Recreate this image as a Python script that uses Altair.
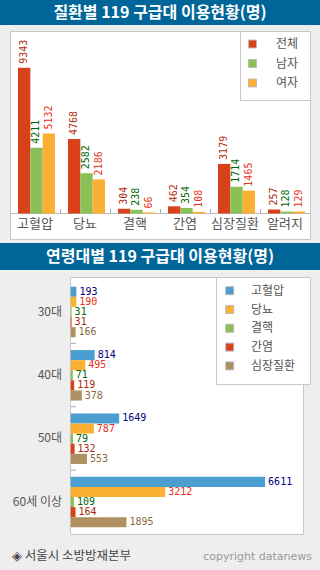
import altair as alt
import pandas as pd

# ---------------- data ----------------
title_top = "질환별 119 구급대 이용현황(명)"
title_bot = "연령대별 119 구급대 이용현황(명)"
footer_left = "◈ 서울시 소방방재본부"
footer_right = "copyright datanews"

cats_top = ["고혈압", "당뇨", "결핵", "간염", "심장질환", "알려지"]
series_top = ["전체", "남자", "여자"]
total = [9343, 4768, 304, 462, 3179, 257]
male = [4211, 2582, 238, 354, 1714, 128]
female = [5132, 2186, 66, 108, 1465, 129]

age_groups = ["30대", "40대", "50대", "60세 이상"]
diseases = ["고혈압", "당뇨", "결핵", "간염", "심장질환"]
hyper = [193, 814, 1649, 6611]
diab = [190, 495, 787, 3212]
tb = [31, 71, 79, 109]
hep = [31, 119, 132, 164]
heart = [166, 378, 553, 1895]

# ---------------- styles ----------------
FONT_KR = "Noto Sans CJK KR"
FONT_NUM = "DejaVu Sans Mono"
BAR_TOP = ["#D9411A", "#8BC057", "#FBB034"]
LBL_TOP = ["#B02A0C", "#006600", "#E8301A"]
BAR_BOT = ["#4A9FD0", "#FBB034", "#8BC057", "#D9411A", "#B09060"]
LBL_BOT = ["#000080", "#E8301A", "#006600", "#A82810", "#8B6B43"]
HEAD = "#006699"
BORDER = "#C8C8C8"

top_rows = []
for i, c in enumerate(cats_top):
    for s, vals in zip(series_top, [total, male, female]):
        top_rows.append({"cat": c, "series": s, "value": vals[i]})
top_df = pd.DataFrame(top_rows)

bot_rows = []
for i, g in enumerate(age_groups):
    for d, vals in zip(diseases, [hyper, diab, tb, hep, heart]):
        bot_rows.append({"grp": g, "disease": d, "value": vals[i]})
bot_df = pd.DataFrame(bot_rows)

dummy = pd.DataFrame({"d": [0]})


def rect(x1, x2, y1, y2, fill, stroke=None):
    kw = dict(fill=fill)
    if stroke:
        kw.update(stroke=stroke, strokeWidth=1)
    return alt.Chart(dummy).mark_rect(**kw).encode(
        x=alt.value(x1), x2=alt.value(x2), y=alt.value(y1), y2=alt.value(y2))


def label(text, x, y, size, color, font=FONT_KR, align="center", weight="normal"):
    return alt.Chart(dummy).mark_text(
        text=text, font=font, fontSize=size, color=color, align=align,
        baseline="middle", fontWeight=weight).encode(x=alt.value(x), y=alt.value(y))


# ---------------- decorations ----------------
deco = [
    rect(0, 320, 0, 25, HEAD),
    rect(0, 320, 243, 270, HEAD),
    rect(10.5, 310.5, 31.5, 239.5, "white", BORDER),
    rect(240.5, 310.5, 31.5, 100.5, "white", BORDER),
    rect(70.5, 303.5, 277.5, 534.5, "white", BORDER),
    rect(216.5, 310.5, 277.5, 384.5, "white", BORDER),
    label(title_top, 160, 13, 16, "white", weight="bold"),
    label(title_bot, 160, 257, 16, "white", weight="bold"),
    label(footer_left, 12, 556, 12.5, "#444444", align="left"),
    label(footer_right, 312, 557, 11, "#999999", font="DejaVu Sans", align="right"),
]

# ---------------- top chart ----------------
xs_top = alt.X("cat:N", scale=alt.Scale(type="band", domain=cats_top, range=[10, 310],
                                        paddingInner=0, paddingOuter=0), axis=None)
# offset bands inside each 50px group: bars 12.33px wide, starting 8px in
xo_top = alt.XOffset("series:N", scale=alt.Scale(type="band", domain=series_top, paddingInner=0,
                                                 paddingOuter=0.527, align=0.615))
ys_top = alt.Y("value:Q", scale=alt.Scale(domain=[0, 10000], range=[213.5, 57.5]), axis=None)

bars_top = alt.Chart(top_df).mark_bar().encode(
    x=xs_top, xOffset=xo_top, y=ys_top,
    color=alt.Color("series:N", scale=alt.Scale(domain=series_top, range=BAR_TOP),
                    legend=alt.Legend(orient="none", legendX=246.5, legendY=38, title=None,
                                      symbolType="square", symbolSize=64,
                                      symbolStrokeColor="#BBBBBB", symbolStrokeWidth=1,
                                      labelFont=FONT_KR, labelFontSize=12, labelColor="#555555",
                                      labelOffset=17.5, rowPadding=7.5, padding=0)))

text_top = alt.Chart(top_df).mark_text(
    angle=270, align="left", baseline="middle", dx=4,
    font=FONT_NUM, fontSize=10).encode(
    x=xs_top, xOffset=xo_top, y=ys_top, text="value:Q",
    color=alt.Color("series:N", scale=alt.Scale(domain=series_top, range=LBL_TOP), legend=None))

cat_df = pd.DataFrame({"cat": cats_top})
cat_labels = alt.Chart(cat_df).mark_text(
    font=FONT_KR, fontSize=13, color="#555555", baseline="middle").encode(
    x=xs_top, y=alt.value(224), text="cat:N")

baseline = alt.Chart(dummy).mark_rule(color="#BBBBBB").encode(
    x=alt.value(10.5), x2=alt.value(310.5), y=alt.value(213.5))

tick_df = pd.DataFrame({"cat": cats_top[1:]})
ticks_top = alt.Chart(tick_df).mark_rule(color="#AAAAAA").encode(
    x=alt.X("cat:N", scale=alt.Scale(type="band", domain=cats_top, range=[10.5, 310.5],
                                     paddingInner=0, paddingOuter=0),
            bandPosition=0, axis=None),
    y=alt.value(209), y2=alt.value(213.5))

# ---------------- bottom chart ----------------
ys_bot = alt.Y("grp:N", scale=alt.Scale(type="band", domain=age_groups, range=[280, 533.5],
                                        paddingInner=0, paddingOuter=0), axis=None)
# offset bands inside each 63.4px group: bars 10.1px tall, starting 6.7px in
yo_bot = alt.YOffset("disease:N", scale=alt.Scale(type="band", domain=diseases, paddingInner=0,
                                                  paddingOuter=0.6375, align=0.52))
xs_bot = alt.X("value:Q", scale=alt.Scale(domain=[0, 7900], range=[70.7, 303]), axis=None)

bars_bot = alt.Chart(bot_df).mark_bar().encode(
    y=ys_bot, yOffset=yo_bot, x=xs_bot,
    color=alt.Color("disease:N", scale=alt.Scale(domain=diseases, range=BAR_BOT),
                    legend=alt.Legend(orient="none", legendX=223.7, legendY=284.7, title=None,
                                      symbolType="square", symbolSize=64,
                                      symbolStrokeColor="#BBBBBB", symbolStrokeWidth=1,
                                      labelFont=FONT_KR, labelFontSize=12, labelColor="#555555",
                                      labelOffset=15.3, rowPadding=6.8, padding=0)))

text_bot = alt.Chart(bot_df).mark_text(
    align="left", baseline="middle", dx=3, font=FONT_NUM, fontSize=10).encode(
    y=ys_bot, yOffset=yo_bot, x=xs_bot, text="value:Q",
    color=alt.Color("disease:N", scale=alt.Scale(domain=diseases, range=LBL_BOT), legend=None))

grp_df = pd.DataFrame({"grp": age_groups})
grp_labels = alt.Chart(grp_df).mark_text(
    font=FONT_KR, fontSize=12, color="#555555", align="right", baseline="middle").encode(
    y=ys_bot, x=alt.value(62), text="grp:N")

tick_bdf = pd.DataFrame({"grp": age_groups[1:]})
ticks_bot = alt.Chart(tick_bdf).mark_rule(color="#AAAAAA").encode(
    y=alt.Y("grp:N", scale=alt.Scale(type="band", domain=age_groups, range=[280, 533.5],
                                     paddingInner=0, paddingOuter=0),
            bandPosition=0, axis=None),
    x=alt.value(71), x2=alt.value(76))

chart = alt.layer(
    *deco, baseline, ticks_top, bars_top, text_top, cat_labels,
    ticks_bot, bars_bot, text_bot, grp_labels,
).resolve_scale(
    x="independent", y="independent", color="independent",
    xOffset="independent", yOffset="independent",
).properties(
    width=320, height=570, autosize=alt.AutoSizeParams(type="none"),
    padding=0, background="#EEEEEE",
).configure_view(stroke=None)

chart.save("out.html", embed_options={"renderer": "svg", "actions": False})
